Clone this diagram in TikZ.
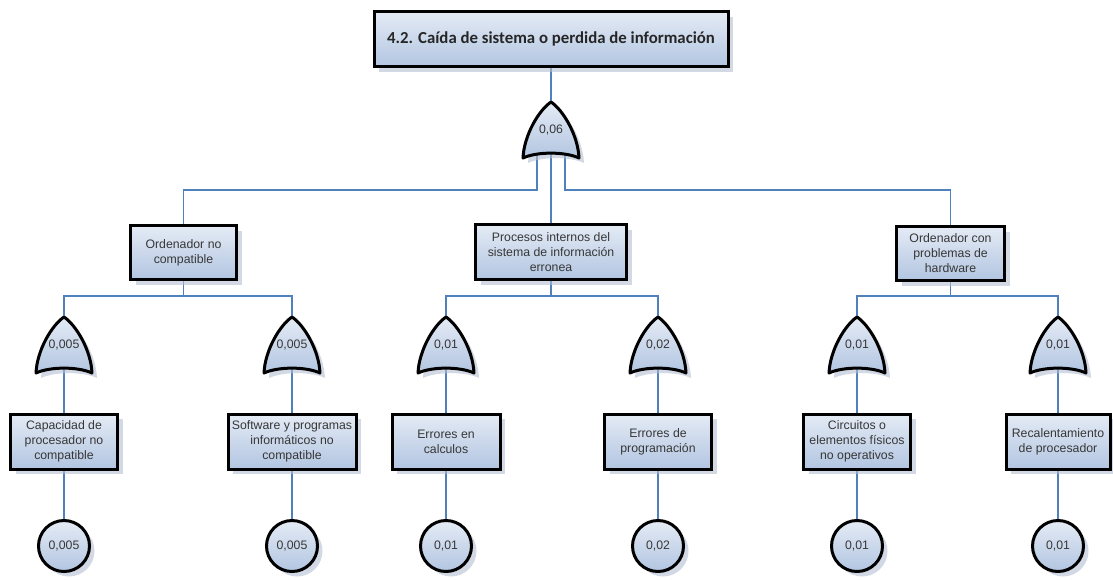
\documentclass[tikz,border=0pt]{standalone}
\usepackage{fontspec}
\setmainfont{Liberation Sans}
\newfontfamily\titlefont{Carlito}
\usetikzlibrary{shadows,backgrounds,calc}
\definecolor{conn}{RGB}{79,129,189}
\definecolor{fillA}{RGB}{228,235,245}
\definecolor{fillB}{RGB}{178,197,225}
\definecolor{shad}{RGB}{180,190,210}
\definecolor{txt}{RGB}{55,55,55}
\tikzset{
  evbox/.style={draw=black, line width=3pt, top color=fillA, bottom color=fillB,
    text=txt, font=\fontsize{12.3}{15}\selectfont, align=center, inner sep=2pt,
    drop shadow={shadow xshift=5pt, shadow yshift=-5pt, fill=shad, opacity=0.6}},
  basicev/.style={evbox, circle, minimum size=51pt, inner sep=0pt},
  leafbox/.style={evbox, minimum height=55pt},
  link/.style={draw=conn, line width=1.7pt},
  pics/orgate/.style={code={
    \fill[shad, opacity=0.6, shift={(5,5)}]
      (-28,56) .. controls (-27,33) and (-12,8) .. (0,0)
      .. controls (12,8) and (27,33) .. (28,56)
      .. controls (14,49.5) and (-14,49.5) .. cycle;
    \path[draw=black, line width=3pt, line join=round, top color=fillA, bottom color=fillB]
      (-28,56) .. controls (-27,33) and (-12,8) .. (0,0)
      .. controls (12,8) and (27,33) .. (28,56)
      .. controls (14,49.5) and (-14,49.5) .. cycle;
    \node[text=txt, font=\fontsize{12.3}{15}\selectfont, inner sep=0pt] (-lbl) at (0,28) {#1};
    \coordinate (-top) at (0,0);
    \coordinate (-bot) at (0,51);
    \coordinate (-bl) at (-14,53);
    \coordinate (-br) at (14,53);
  }}
}
\begin{document}
\begin{tikzpicture}[x=1pt,y=-1pt]
\useasboundingbox (0,0) rectangle (1113,579);

% top event
\node[evbox, minimum width=354pt, minimum height=55pt,
  font=\titlefont\bfseries\fontsize{16.8}{20}\selectfont, text=black!85] (top) at (551,39)
  {4.2. Caída de sistema o perdida de información};

\pic (g0) at (551,102) {orgate={0,06}};

% intermediate events
\node[evbox, minimum width=106pt, minimum height=54pt] (m1) at (183.5,252.5) {Ordenador no\\compatible};
\node[evbox, minimum width=151pt, minimum height=55pt] (m2) at (551,252) {Procesos internos del\\sistema de información\\erronea};
\node[evbox, minimum width=108pt, minimum height=54pt] (m3) at (950.5,253.5) {Ordenador con\\problemas de\\hardware};

% gates level 2
\pic (g1) at (64,317) {orgate={0,005}};
\pic (g2) at (292,317) {orgate={0,005}};
\pic (g3) at (446,317) {orgate={0,01}};
\pic (g4) at (658,317) {orgate={0,02}};
\pic (g5) at (857,317) {orgate={0,01}};
\pic (g6) at (1058,317) {orgate={0,01}};

% leaf boxes
\node[leafbox, minimum width=107pt] (l1) at (64,441.5) {Capacidad de\\procesador no\\compatible};
\node[leafbox, minimum width=128pt] (l2) at (292,441.5) {Software y programas\\informáticos no\\compatible};
\node[leafbox, minimum width=108pt] (l3) at (446,441.5) {Errores en\\calculos};
\node[leafbox, minimum width=107pt] (l4) at (658,441.5) {Errores de\\programación};
\node[leafbox, minimum width=107pt] (l5) at (857,441.5) {Circuitos o\\elementos físicos\\no operativos};
\node[leafbox, minimum width=104pt] (l6) at (1058,441.5) {Recalentamiento\\de procesador};

% basic events
\node[basicev] (c1) at (64,546) {0,005};
\node[basicev] (c2) at (292,546) {0,005};
\node[basicev] (c3) at (446,546) {0,01};
\node[basicev] (c4) at (658,546) {0,02};
\node[basicev] (c5) at (857,546) {0,01};
\node[basicev] (c6) at (1058,546) {0,01};

% junction coordinates
\coordinate (j0) at ($(top.south)+(0,122)$);
\coordinate (r1) at ($(m1.south)+(0,15)$);
\coordinate (r2) at ($(m2.south)+(0,15)$);
\coordinate (r3) at ($(m3.south)+(0,14)$);

\begin{scope}[on background layer]
  \draw[link] (top.south) -- (g0-top);
  \draw[link] (g0-bot) -- (m2.north);
  \draw[link] (g0-bl) -- (g0-bl |- j0) -| (m1.north);
  \draw[link] (g0-br) -- (g0-br |- j0) -| (m3.north);

  \draw[link] (m1.south) -- (r1);
  \draw[link] (g1-top) |- (r1) -| (g2-top);
  \draw[link] (m2.south) -- (r2);
  \draw[link] (g3-top) |- (r2) -| (g4-top);
  \draw[link] (m3.south) -- (r3);
  \draw[link] (g5-top) |- (r3) -| (g6-top);

  \foreach \i in {1,...,6}{
    \draw[link] (g\i-bot) -- (l\i.north);
    \draw[link] (l\i.south) -- (c\i.north);
  }
\end{scope}
\end{tikzpicture}
\end{document}
